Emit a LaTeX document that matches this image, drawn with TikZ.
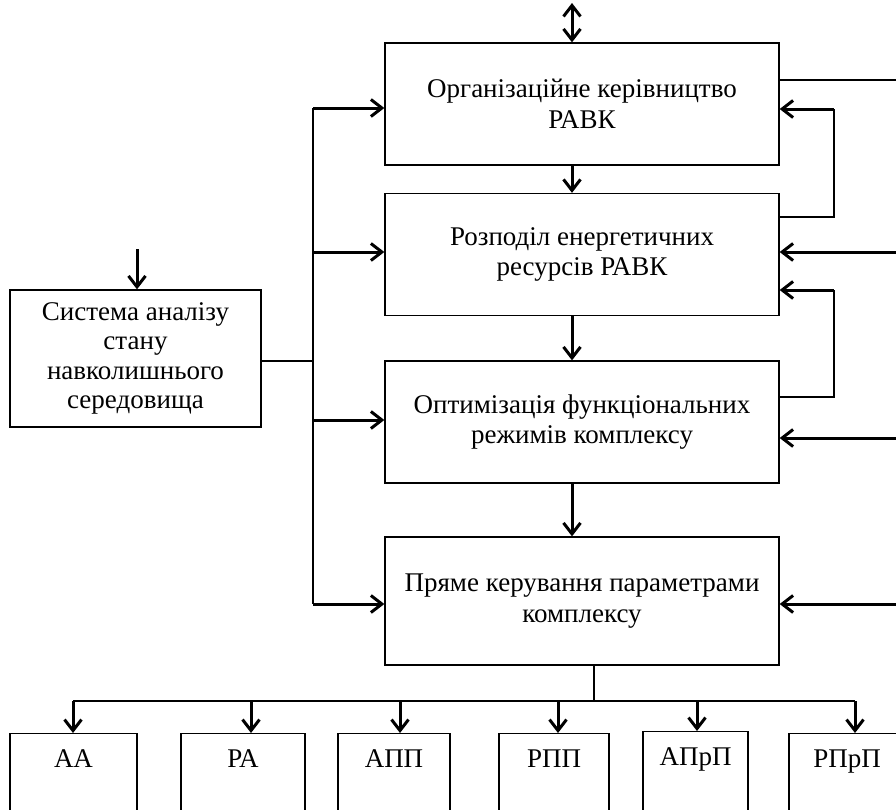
\documentclass[tikz,border=0pt]{standalone}
\usepackage{fontspec}
\setmainfont{Liberation Serif}
\usetikzlibrary{arrows.meta}

\tikzset{
  blok/.style={draw,rectangle,line width=1.3pt,align=center,
    minimum width=394pt,minimum height=122pt,inner sep=0pt,
    font=\fontsize{27}{30.5}\selectfont},
  mala/.style={draw,rectangle,line width=1.3pt,anchor=north,
    inner ysep=4pt,inner xsep=0pt,text height=30pt,text depth=70pt,
    font=\fontsize{27}{30.5}\selectfont},
  arr/.style={line width=3pt,-{Straight Barb[length=11pt,width=17pt,line width=3pt]}},
  darr/.style={line width=3pt,{Straight Barb[length=11pt,width=17pt,line width=3pt]}-{Straight Barb[length=11pt,width=17pt,line width=3pt]}},
  thin/.style={line width=1.3pt}
}

\begin{document}
\begin{tikzpicture}[x=1pt,y=-1pt]
\useasboundingbox (0,0) rectangle (896,809);
\clip (0,0) rectangle (896,809);

% main column
\node (org) at (582,104) [blok] {Організаційне керівництво\\РАВК};
\node (roz) at (582,254.5) [blok] {Розподіл енергетичних\\ресурсів РАВК};
\node (opt) at (582,422) [blok] {Оптимізація функціональних\\режимів комплексу};
\node (pkp) at (582,601) [blok,minimum height=128pt] {Пряме керування параметрами\\комплексу};

% environment analysis
\node (san) at (135.5,358.5) [blok,minimum width=251pt,minimum height=137pt,
  font=\fontsize{27}{29.5}\selectfont]
  {Система аналізу\\стану\\навколишнього\\середовища};

% bottom boxes
\node (aa)   at (73.5,733) [mala,minimum width=127pt] {АА};
\node (ra)   at (243,733)  [mala,minimum width=124pt] {РА};
\node (app)  at (394,733)  [mala,minimum width=112pt] {АПП};
\node (rpp)  at (554,733)  [mala,minimum width=110pt] {РПП};
\node (aprp) at (695.5,731) [mala,minimum width=105pt] {АПрП};
\node (rprp) at (847,733)  [mala,minimum width=116pt] {РПрП};

% helper points
\coordinate (mid) at (572,0);
\coordinate (top) at (572,3);
\coordinate (busl) at (313,361);
\coordinate (fb1) at (834,109);
\coordinate (fb2) at (834,290);
\coordinate (edge) at (896,0);

% vertical flow
\draw[darr] (top) -- (org.north -| top);
\draw[arr] (org.south -| mid) -- (roz.north -| mid);
\draw[arr] (roz.south -| mid) -- (opt.north -| mid);
\draw[arr] (opt.south -| mid) -- (pkp.north -| mid);

% input to environment analysis
\draw[arr] (137,249) -- (san.north -| 137,0);

% left bus
\draw[thin] (san.east |- busl) -- (busl);
\draw[line width=2.2pt] (313,108) -- (313,604);
\draw[arr] (313,108) -- (org.west |- 0,108);
\draw[arr] (313,252) -- (roz.west |- 0,252);
\draw[arr] (313,420) -- (opt.west |- 0,420);
\draw[arr] (313,604) -- (pkp.west |- 0,604);

% right side
\draw[thin] (org.east |- 0,80) -- (edge |- 0,80);
\draw[thin] (roz.east |- 0,217) -- (fb1 |- 0,217) -- (fb1);
\draw[arr] (fb1) -- (org.east |- fb1);
\draw[thin] (opt.east |- 0,397) -- (fb2 |- 0,397) -- (fb2);
\draw[arr] (fb2) -- (roz.east |- fb2);
\draw[arr] (edge |- 0,252) -- (roz.east |- 0,252);
\draw[arr] (edge |- 0,438) -- (opt.east |- 0,438);
\draw[arr] (edge |- 0,604) -- (pkp.east |- 0,604);

% distribution to bottom boxes
\draw[thin] (pkp.south -| 594,0) -- (594,701);
\draw[line width=1.6pt] (73,701) -- (855,701);
\foreach \x/\b in {73/aa,251/ra,400/app,558/rpp,697/aprp,855/rprp}
  \draw[arr] (\x,701) -- (\b.north -| \x,0);
\end{tikzpicture}
\end{document}
